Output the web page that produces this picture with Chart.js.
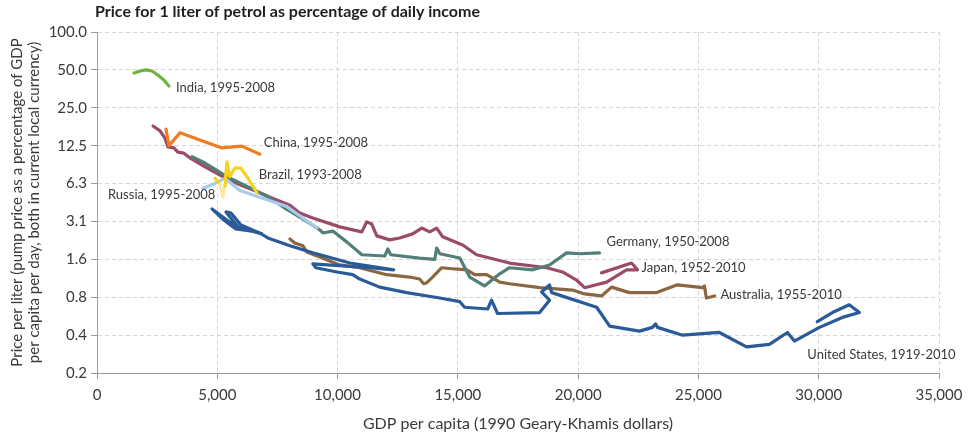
<!DOCTYPE html>
<html>
<head>
<meta charset="utf-8">
<script src="https://cdn.jsdelivr.net/npm/chart.js@4.4.1/dist/chart.umd.min.js"></script>
<style>
  html, body { margin: 0; padding: 0; background: #fff; }
</style>
</head>
<body>
<canvas id="chart" width="970" height="437"></canvas>
<script>
// tick values (powers of two below 100) and their labels
const yTickValues = [0.1953125, 0.390625, 0.78125, 1.5625, 3.125, 6.25, 12.5, 25, 50, 100];
const yTickLabels = ['0.2', '0.4', '0.8', '1.6', '3.1', '6.3', '12.5', '25.0', '50.0', '100.0'];

// GDP per capita (1990 GK $) and petrol price (% of daily income)
const indiaGdp = [1540, 1790, 2035, 2280, 2530, 2780, 2990];
const indiaPrice = [47.2, 49.0, 50.0, 49.0, 45.5, 41.6, 37.2];

const chinaGdp = [2870, 2990, 3450, 5190, 6020, 6770];
const chinaPrice = [16.9, 12.5, 15.8, 12.0, 12.4, 10.7];

const brazilGdp = [4900, 5110, 5230, 5320, 5400, 5520, 5730, 5980, 6230, 6650];
const brazilPrice = [6.9, 6.2, 4.9, 6.0, 9.3, 7.1, 8.3, 8.3, 7.1, 5.3];

const russiaGdp = [4400, 4900, 5320, 5940, 7890, 9140];
const russiaPrice = [5.7, 6.25, 6.9, 5.5, 4.1, 2.77];

const japanGdp = [2330, 2620, 2820, 2950, 3200, 3360, 3610, 3860, 4490, 5230, 5940, 6650, 7390, 8020, 8430,
  8970, 10090, 11010, 11210, 11420, 11630, 12170, 12580, 13120, 13500, 13830, 14120, 14370, 15200, 15780,
  17150, 18690, 19350, 19930, 20270, 21180, 22010, 22470, 22220, 20970];
const japanPrice = [17.9, 16.4, 14.4, 12.2, 12.0, 11.1, 10.9, 10.0, 8.5, 7.1, 6.1, 5.4, 4.7, 4.2, 3.65,
  3.33, 2.83, 2.58, 3.10, 2.98, 2.40, 2.23, 2.31, 2.49, 2.77, 2.58, 2.77, 2.36, 2.03, 1.70,
  1.46, 1.34, 1.24, 1.07, 0.93, 1.03, 1.29, 1.29, 1.46, 1.22];

const germanyGdp = [3950, 4490, 5400, 6350, 7190, 7890, 8640, 9260, 9390, 9800, 10380, 11010, 11960, 12090, 12210,
  13410, 14040, 14120, 14250, 15080, 15490, 16110, 16740, 17150, 18110, 18810, 19520, 20060, 20890];
const germanyPrice = [10.2, 9.1, 7.1, 5.8, 4.8, 3.9, 3.2, 2.68, 2.53, 2.62, 2.15, 1.70, 1.66, 1.89, 1.70,
  1.60, 1.56, 1.92, 1.73, 1.60, 1.13, 0.96, 1.20, 1.34, 1.29, 1.41, 1.76, 1.73, 1.76];

const usGdp = [5940, 5650, 5360, 5570, 5980, 6560, 6850, 6270, 5730, 5190, 4780, 5270, 5770, 6440, 6770,
  7100, 8020, 8970, 10510, 12330, 11340, 8970, 9100, 9970, 10630, 10920, 11750, 12870, 14250, 15080,
  15280, 16240, 16400, 16650, 18400, 18810, 18480, 18810, 18900, 20770, 21310, 22550, 23090, 23220, 23300,
  24340, 25870, 27000, 27950, 28700, 28990, 30030, 30980, 31690, 31270, 30570, 29940];
const usPrice = [2.72, 3.16, 3.72, 3.65, 2.93, 2.62, 2.49, 2.68, 2.88, 3.44, 3.93, 3.21, 2.72, 2.62, 2.53,
  2.31, 2.00, 1.76, 1.46, 1.29, 1.34, 1.44, 1.34, 1.24, 1.18, 1.09, 0.94, 0.85, 0.77, 0.72,
  0.65, 0.63, 0.74, 0.58, 0.59, 0.74, 0.86, 0.98, 0.85, 0.65, 0.46, 0.42, 0.45, 0.48, 0.45,
  0.39, 0.41, 0.315, 0.33, 0.41, 0.35, 0.45, 0.54, 0.59, 0.68, 0.59, 0.50];

const australiaGdp = [8020, 8220, 8560, 8720, 9260, 10090, 10920, 12040, 13000, 13410, 13580, 13710, 13950, 14330, 14870,
  15370, 15700, 16200, 16740, 17150, 18400, 19770, 20270, 20970, 21390, 22130, 23260, 24130, 25170, 25250, 25330, 25670];
const australiaPrice = [2.27, 2.11, 2.00, 1.79, 1.63, 1.41, 1.34, 1.18, 1.13, 1.09, 1.00, 1.02, 1.13, 1.34, 1.31,
  1.29, 1.18, 1.18, 1.03, 1.00, 0.93, 0.89, 0.83, 0.80, 0.94, 0.85, 0.85, 0.98, 0.93, 0.96, 0.77, 0.80];

// label text and where it sits (in axis units)
const seriesLabels = [
  { text: 'India, 1995-2008', x: 3281, y: 35.9 },
  { text: 'China, 1995-2008', x: 6936, y: 13.1 },
  { text: 'Brazil, 1993-2008', x: 6728, y: 7.3 },
  { text: 'Russia, 1995-2008', x: 457, y: 5.07 },
  { text: 'Germany, 1950-2008', x: 21180, y: 2.15 },
  { text: 'Japan, 1952-2010', x: 22634, y: 1.34 },
  { text: 'Australia, 1955-2010', x: 25915, y: 0.81 },
  { text: 'United States, 1919-2010', x: 29528, y: 0.27 }
];

const FONT = 'Lato, "Open Sans", sans-serif';
const TEXT = '#3a3a3a';
Chart.defaults.font.family = FONT;
Chart.defaults.color = TEXT;

// first entry is drawn on top
const series = [
  { name: 'Brazil', gdp: brazilGdp, price: brazilPrice, color: '#F8D21E' },
  { name: 'Russia', gdp: russiaGdp, price: russiaPrice, color: '#A7CBEA' },
  { name: 'China', gdp: chinaGdp, price: chinaPrice, color: '#F07D22' },
  { name: 'India', gdp: indiaGdp, price: indiaPrice, color: '#6DB33F' },
  { name: 'Germany', gdp: germanyGdp, price: germanyPrice, color: '#527F78' },
  { name: 'Japan', gdp: japanGdp, price: japanPrice, color: '#9B4B66' },
  { name: 'United States', gdp: usGdp, price: usPrice, color: '#2A5A98' },
  { name: 'Australia', gdp: australiaGdp, price: australiaPrice, color: '#8C6641' }
];

const datasets = series.map(s => {
  const ds = {
    label: s.name,
    data: s.gdp.map((g, i) => ({ x: g, y: s.price[i] })),
    showLine: true,
    borderColor: s.color,
    borderWidth: 3.2,
    borderJoinStyle: 'round',
    borderCapStyle: 'round',
    pointRadius: 0,
    pointHoverRadius: 0,
    tension: 0,
    fill: false
  };
  if (s.name === 'Brazil') {
    // the early dip is drawn paler in the original
    ds.segment = { borderColor: c => (c.p0DataIndex === 1 || c.p0DataIndex === 2) ? '#FBE69A' : s.color };
  }
  return ds;
});

const labelPlugin = {
  id: 'textLabels',
  afterDatasetsDraw(chart) {
    const { ctx, scales: { x, y } } = chart;
    ctx.save();
    ctx.textBaseline = 'middle';
    ctx.textAlign = 'left';
    ctx.fillStyle = TEXT;
    ctx.font = '13px ' + FONT;
    seriesLabels.forEach(l => {
      ctx.fillText(l.text, x.getPixelForValue(l.x), y.getPixelForValue(l.y));
    });
    ctx.fillStyle = '#1e1e1e';
    ctx.font = 'bold 16px ' + FONT;
    ctx.fillText('Price for 1 liter of petrol as percentage of daily income', 95, 12);
    ctx.restore();
  }
};

const gridColor = '#d6d6d6';
const axisColor = '#9a9a9a';

new Chart(document.getElementById('chart'), {
  type: 'scatter',
  data: { datasets: datasets },
  options: {
    responsive: false,
    animation: false,
    layout: { padding: { top: 32, right: 31, bottom: 0, left: 0 } },
    plugins: {
      legend: { display: false },
      tooltip: { enabled: false },
      title: { display: false }
    },
    scales: {
      x: {
        type: 'linear',
        min: 0,
        max: 35000,
        ticks: {
          stepSize: 5000,
          padding: 7,
          font: { size: 15 },
          color: TEXT,
          callback: v => v.toLocaleString('en-US')
        },
        grid: { color: gridColor, tickColor: axisColor, tickLength: 6, tickBorderDash: [] },
        border: { color: axisColor, dash: [4, 3] },
        title: {
          display: true,
          text: 'GDP per capita (1990 Geary-Khamis dollars)',
          font: { size: 16 },
          color: TEXT,
          padding: { top: 0, bottom: 4 }
        },
        afterFit: s => { s.height = 64; }
      },
      y: {
        type: 'logarithmic',
        min: yTickValues[0],
        max: yTickValues[yTickValues.length - 1],
        afterBuildTicks: s => { s.ticks = yTickValues.map(v => ({ value: v })); },
        ticks: {
          autoSkip: false,
          padding: 4,
          font: { size: 15 },
          color: TEXT,
          callback: (v, i) => yTickLabels[i]
        },
        grid: { color: gridColor, tickColor: axisColor, tickLength: 6, tickBorderDash: [] },
        border: { color: axisColor, dash: [4, 3] },
        title: {
          display: true,
          text: ['Price per liter (pump price as a percentage of GDP',
                 'per capita per day, both in current local currency)'],
          font: { size: 15, lineHeight: 1.1 },
          color: TEXT,
          padding: { top: 9, bottom: 0 }
        },
        afterFit: s => { s.width = 97; }
      }
    }
  },
  plugins: [labelPlugin]
});
</script>
</body>
</html>
